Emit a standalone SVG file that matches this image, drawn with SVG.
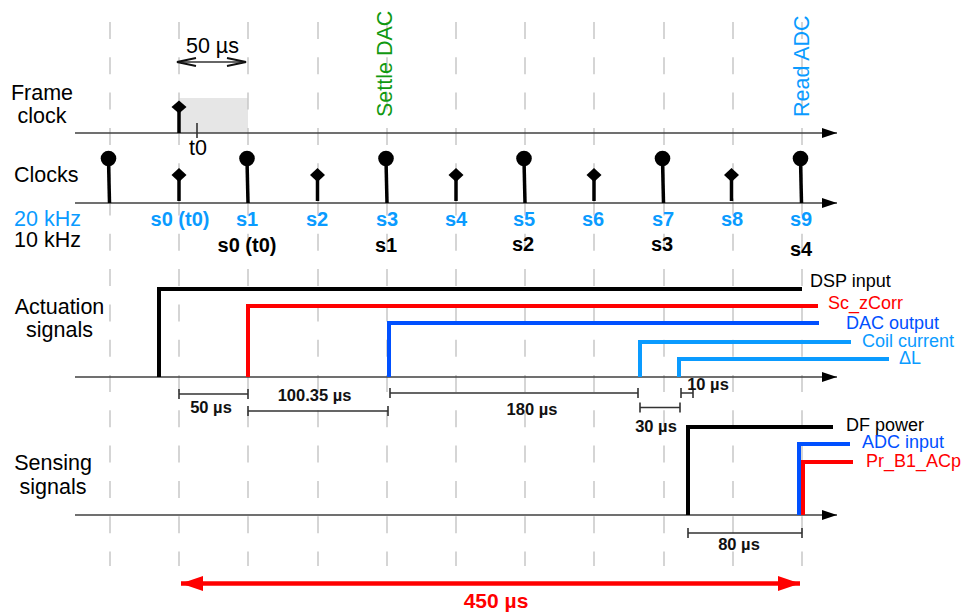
<svg xmlns="http://www.w3.org/2000/svg" width="964" height="614" viewBox="0 0 964 614">
<style>
text{font-family:"Liberation Sans",Arial,sans-serif}
.t21{font-size:21.5px}
.b20{font-size:20px;font-weight:bold;text-anchor:middle}
.dim{font-size:16.5px;font-weight:bold;text-anchor:middle;fill:#111}
.lab{font-size:18px}
.grid{stroke:#c8c8c8;stroke-width:1.5;stroke-dasharray:17 18.3}
.axis{stroke:#404040;stroke-width:1.6;fill:none}
.sig{fill:none;stroke-width:4;stroke-linejoin:miter}
.stem{stroke:#000;stroke-width:3.5}
.dl{stroke:#333;stroke-width:1.6;fill:none}
.lb{fill:#0a9bff}
.db{fill:#0050ff}
</style>
<defs>
<marker id="ah" markerWidth="16" markerHeight="10" refX="15" refY="5" orient="auto" markerUnits="userSpaceOnUse"><path d="M0,0 L15,5 L0,10 Z" fill="#000"/></marker>
<marker id="rh" markerWidth="24" markerHeight="16" refX="22" refY="8" orient="auto-start-reverse" markerUnits="userSpaceOnUse"><path d="M0,0.5 L22,8 L0,15.5 Z" fill="#ff0000"/></marker>
</defs>

<rect x="179" y="98" width="69" height="35" fill="#e6e6e6"/>

<g id="grid">
<line class="grid" x1="110" y1="22" x2="110" y2="566"/>
<line class="grid" x1="179" y1="22" x2="179" y2="566"/>
<line class="grid" x1="248" y1="22" x2="248" y2="566"/>
<line class="grid" x1="318" y1="22" x2="318" y2="566"/>
<line class="grid" x1="387" y1="22" x2="387" y2="566"/>
<line class="grid" x1="456" y1="22" x2="456" y2="566"/>
<line class="grid" x1="525" y1="22" x2="525" y2="566"/>
<line class="grid" x1="594" y1="22" x2="594" y2="566"/>
<line class="grid" x1="664" y1="22" x2="664" y2="566"/>
<line class="grid" x1="733" y1="22" x2="733" y2="566"/>
<line class="grid" x1="802" y1="22" x2="802" y2="566"/>
</g>

<g id="axes">
<line class="axis" x1="75" y1="133" x2="837" y2="133" marker-end="url(#ah)"/>
<line class="axis" x1="75" y1="203" x2="837" y2="203" marker-end="url(#ah)"/>
<line class="axis" x1="75" y1="377" x2="837" y2="377" marker-end="url(#ah)"/>
<line class="axis" x1="75" y1="515" x2="837" y2="515" marker-end="url(#ah)"/>
</g>

<g id="titles">
<text class="t21" x="42" y="99.5" text-anchor="middle">Frame</text>
<text class="t21" x="42" y="123" text-anchor="middle">clock</text>
<text class="t21" x="14" y="182">Clocks</text>
<text class="t21 lb" x="14" y="226">20 kHz</text>
<text class="t21" x="14" y="247">10 kHz</text>
<text class="t21" x="59.5" y="314" text-anchor="middle">Actuation</text>
<text class="t21" x="59.5" y="337" text-anchor="middle">signals</text>
<text class="t21" x="53" y="470" text-anchor="middle">Sensing</text>
<text class="t21" x="53" y="494" text-anchor="middle">signals</text>
</g>

<g id="frame-clock">
<line class="stem" x1="179" y1="110" x2="179" y2="133" stroke-width="4"/>
<path d="M179,100.5 L186.5,107 L179,113.5 L171.5,107 Z" fill="#000"/>
<line class="dl" x1="197" y1="123" x2="197" y2="138"/>
<text class="t21" x="189" y="155">t0</text>
<path class="dl" d="M177,62 H246" stroke="#222"/>
<path d="M196,58 L177,62 L196,66 M227,58 L246,62 L227,66" fill="none" stroke="#111" stroke-width="2"/>
<text class="t21" x="212.5" y="53" text-anchor="middle">50 µs</text>
</g>

<g id="markers">
<text class="t21" fill="#119911" transform="translate(392,117) rotate(-90)">Settle DAC</text>
<text class="t21 lb" transform="translate(809,117) rotate(-90)">Read ADC</text>
</g>

<g id="clocks">
<g id="clk10">
<line class="stem" x1="108.5" y1="160" x2="109.5" y2="203"/>
<circle cx="108.5" cy="158.5" r="7.8"/>
<line class="stem" x1="247" y1="160" x2="248" y2="203"/>
<circle cx="247" cy="158.5" r="7.8"/>
<line class="stem" x1="386" y1="160" x2="387" y2="203"/>
<circle cx="386" cy="158.5" r="7.8"/>
<line class="stem" x1="524" y1="160" x2="525" y2="203"/>
<circle cx="524" cy="158.5" r="7.8"/>
<line class="stem" x1="662.5" y1="160" x2="663.5" y2="203"/>
<circle cx="662.5" cy="158.5" r="7.8"/>
<line class="stem" x1="800.5" y1="160" x2="801.5" y2="203"/>
<circle cx="800.5" cy="158.5" r="7.8"/>
</g>
<g id="clk20">
<line class="stem" x1="179" y1="178" x2="179" y2="201"/>
<path d="M179,168 L186.5,175 L179,182 L171.5,175 Z"/>
<line class="stem" x1="317.5" y1="178" x2="317.5" y2="201"/>
<path d="M317.5,168 L325,175 L317.5,182 L310,175 Z"/>
<line class="stem" x1="456" y1="178" x2="456" y2="201"/>
<path d="M456,168 L463.5,175 L456,182 L448.5,175 Z"/>
<line class="stem" x1="594" y1="178" x2="594" y2="201"/>
<path d="M594,168 L601.5,175 L594,182 L586.5,175 Z"/>
<line class="stem" x1="731.5" y1="178" x2="731.5" y2="201"/>
<path d="M731.5,168 L739,175 L731.5,182 L724,175 Z"/>
</g>
<g id="clk-labels">
<text class="b20 lb" x="180" y="226">s0 (t0)</text>
<text class="b20 lb" x="247" y="226">s1</text>
<text class="b20 lb" x="317" y="226">s2</text>
<text class="b20 lb" x="387" y="226">s3</text>
<text class="b20 lb" x="456" y="226">s4</text>
<text class="b20 lb" x="524" y="226">s5</text>
<text class="b20 lb" x="593" y="226">s6</text>
<text class="b20 lb" x="663" y="226">s7</text>
<text class="b20 lb" x="732" y="226">s8</text>
<text class="b20 lb" x="801" y="226">s9</text>
<text class="b20" x="247" y="252">s0 (t0)</text>
<text class="b20" x="386" y="252">s1</text>
<text class="b20" x="523" y="251">s2</text>
<text class="b20" x="662" y="251">s3</text>
<text class="b20" x="801" y="256">s4</text>
</g>
</g>

<g id="actuation">
<g id="dsp-input"><path class="sig" stroke="#000" d="M159,377 V289 H802"/><text class="lab" x="810" y="287">DSP input</text></g>
<g id="sc-zcorr"><path class="sig" stroke="#ff0000" d="M248,377 V306 H818"/><text class="lab" fill="#ff0000" x="828" y="309">Sc_zCorr</text></g>
<g id="dac-output"><path class="sig" stroke="#0050ff" d="M389,377 V323 H819"/><text class="lab db" x="846" y="329">DAC output</text></g>
<g id="coil-current"><path class="sig" stroke="#0a9bff" d="M640,377 V342 H851"/><text class="lab lb" x="862" y="347">Coil current</text></g>
<g id="delta-l"><path class="sig" stroke="#0a9bff" d="M679,377 V359 H889"/><text class="lab lb" x="899" y="364">ΔL</text></g>
</g>

<g id="sensing">
<g id="df-power"><path class="sig" stroke="#000" d="M688,515 V427 H833"/><text class="lab" x="846" y="431">DF power</text></g>
<g id="adc-input"><path class="sig" stroke="#0050ff" stroke-linejoin="round" d="M799,515 V444 H850"/><text class="lab db" x="862" y="448">ADC input</text></g>
<g id="pr-b1-acp"><path class="sig" stroke="#ff0000" d="M803,515 V462 H853"/><text class="lab" fill="#ff0000" x="866" y="467">Pr_B1_ACp</text></g>
</g>

<g id="dimensions">
<path class="dl" d="M179,394 H248 M179,389 V399 M248,389 V399"/>
<text class="dim" x="211" y="413">50 µs</text>
<path class="dl" d="M248,411 H388 M248,406 V416 M388,406 V416"/>
<text class="dim" x="314.5" y="401">100.35 µs</text>
<path class="dl" d="M390,393 H638 M390,388 V398 M638,388 V398"/>
<text class="dim" x="532" y="415">180 µs</text>
<path class="dl" d="M640,407.5 H680 M640,402.5 V412.5 M680,402.5 V412.5"/>
<text class="dim" x="656" y="432">30 µs</text>
<path class="dl" d="M681,393 H693 M681,388 V398 M693,388 V398"/>
<text class="dim" x="708" y="390">10 µs</text>
<path class="dl" d="M688,533 H802 M688,528 V538 M802,528 V538"/>
<text class="dim" x="739" y="550">80 µs</text>
</g>

<g id="total">
<line x1="181" y1="583.5" x2="800" y2="583.5" stroke="#ff0000" stroke-width="4.5" marker-start="url(#rh)" marker-end="url(#rh)"/>
<text x="496" y="608" font-size="21" font-weight="bold" fill="#ff0000" text-anchor="middle">450 µs</text>
</g>
</svg>
